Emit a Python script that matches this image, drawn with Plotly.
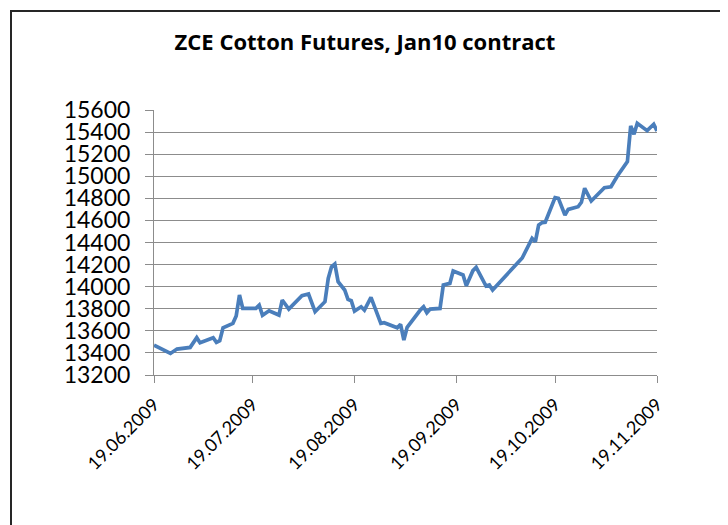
import plotly.graph_objects as go

dates = [
    "2009-06-19", "2009-06-22", "2009-06-24", "2009-06-26", "2009-06-30",
    "2009-07-02", "2009-07-03", "2009-07-07", "2009-07-08", "2009-07-09",
    "2009-07-10", "2009-07-13", "2009-07-14", "2009-07-15", "2009-07-16",
    "2009-07-20", "2009-07-21", "2009-07-22", "2009-07-24", "2009-07-27",
    "2009-07-28", "2009-07-30", "2009-08-03", "2009-08-05", "2009-08-07",
    "2009-08-10", "2009-08-11", "2009-08-12", "2009-08-13", "2009-08-14",
    "2009-08-16", "2009-08-17", "2009-08-18", "2009-08-19", "2009-08-21",
    "2009-08-22", "2009-08-24", "2009-08-27", "2009-08-28", "2009-09-01",
    "2009-09-02", "2009-09-03", "2009-09-04", "2009-09-08", "2009-09-09",
    "2009-09-10", "2009-09-11", "2009-09-14", "2009-09-15", "2009-09-17",
    "2009-09-18", "2009-09-21", "2009-09-22", "2009-09-24", "2009-09-25",
    "2009-09-28", "2009-09-29", "2009-09-30", "2009-10-08", "2009-10-09",
    "2009-10-12", "2009-10-13", "2009-10-14", "2009-10-15", "2009-10-16",
    "2009-10-19", "2009-10-20", "2009-10-22", "2009-10-23", "2009-10-26",
    "2009-10-27", "2009-10-28", "2009-10-30", "2009-11-03", "2009-11-05",
    "2009-11-07", "2009-11-10", "2009-11-11", "2009-11-12", "2009-11-13",
    "2009-11-16", "2009-11-18", "2009-11-19",
]
prices = [
    13470, 13426, 13395, 13435, 13450,
    13538, 13492, 13538, 13496, 13510,
    13628, 13668, 13734, 13924, 13803,
    13803, 13833, 13740, 13782, 13743,
    13879, 13797, 13918, 13933, 13773,
    13864, 14075, 14180, 14205, 14045,
    13970, 13885, 13873, 13779, 13818,
    13788, 13903, 13668, 13674, 13628,
    13659, 13517, 13632, 13788, 13818,
    13764, 13797, 13803, 14015, 14030,
    14142, 14106, 14009, 14145, 14175,
    14006, 14015, 13970, 14230, 14260,
    14438, 14407, 14558, 14579, 14583,
    14806, 14800, 14649, 14700, 14724,
    14764, 14891, 14776, 14896, 14905,
    15005, 15132, 15455, 15380, 15480,
    15413, 15471, 15410,
]
tick_dates = ["2009-06-19", "2009-07-19", "2009-08-19", "2009-09-19", "2009-10-19", "2009-11-19"]
tick_labels = ["19.06.2009", "19.07.2009", "19.08.2009", "19.09.2009", "19.10.2009", "19.11.2009"]
title_text = "ZCE Cotton Futures, Jan10 contract"

FONT = "Lato"
TITLE_FONT = "Open Sans"
GRID = "#8c8c8c"

# page body adds an 8px offset; lay out in page coordinates minus 8
OFF = 8
W, H = 728 - OFF, 525 - OFF
L, T = 154 - OFF, 110 - OFF
R = W - (657 - OFF)
B = H - (375 - OFF)
pw, ph = W - L - R, H - T - B

def px_x(px):
    return (px - OFF - L) / pw

def px_y(py):
    return (H - B - (py - OFF)) / ph

fig = go.Figure()
fig.add_trace(go.Scatter(
    x=dates, y=prices, mode="lines",
    line=dict(color="#4a7ebb", width=3.7),
    hoverinfo="x+y", showlegend=False,
))

fig.add_shape(
    type="rect", xref="paper", yref="paper",
    x0=px_x(11), x1=px_x(724),
    y0=px_y(560), y1=px_y(11),
    line=dict(color="#262626", width=2), fillcolor="rgba(0,0,0,0)", layer="below",
)

fig.update_layout(
    width=W, height=H,
    margin=dict(l=L, r=R, t=T, b=B, pad=0, autoexpand=False),
    paper_bgcolor="white", plot_bgcolor="white",
    title=dict(
        text="<b>" + title_text + "</b>",
        x=px_x(365), xref="paper", xanchor="center",
        y=1 - (42 - OFF) / H, yref="container", yanchor="middle",
        font=dict(family=TITLE_FONT, size=22, color="#000000"),
    ),
    font=dict(family=FONT, color="#000000"),
)
fig.update_xaxes(
    type="date",
    range=["2009-06-19", "2009-11-19"],
    tickmode="array", tickvals=tick_dates, ticktext=tick_labels,
    tickangle=-45,
    tickfont=dict(family=FONT, size=18, color="#000000"),
    showgrid=False, zeroline=False,
    showline=True, linecolor=GRID, linewidth=1,
    ticks="outside", ticklen=7, tickcolor=GRID, tickwidth=1,
    ticklabelstandoff=4,
)
fig.update_yaxes(
    range=[13200, 15600], dtick=200, tick0=13200,
    tickformat="d",
    tickfont=dict(family=FONT, size=23, color="#000000"),
    showgrid=True, gridcolor=GRID, gridwidth=1,
    zeroline=False,
    showline=True, linecolor=GRID, linewidth=1,
    ticks="outside", ticklen=8, tickcolor=GRID, tickwidth=1,
    ticklabelstandoff=10,
)

fig.write_html("out.html")
